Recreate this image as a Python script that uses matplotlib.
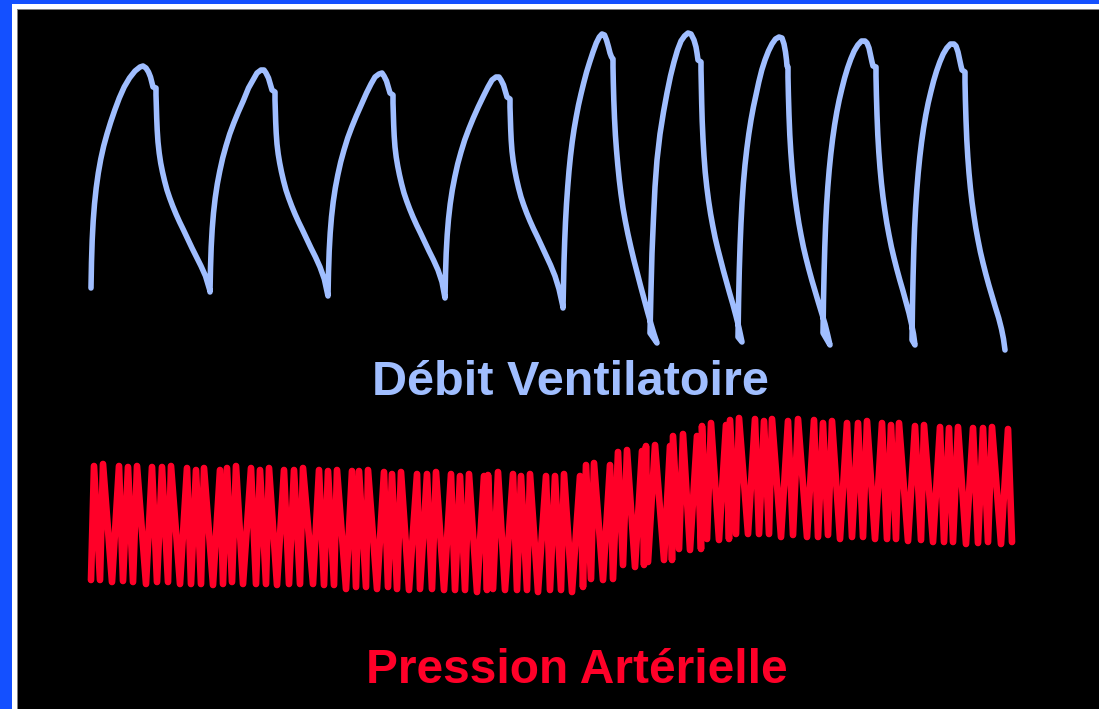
import matplotlib
matplotlib.use("Agg")
import matplotlib.pyplot as plt
from matplotlib.patches import Rectangle

# ---- Ventilatory flow: one list of (t, v) vertices per breath ----
breath_1 = [(91, 288), (91.5, 262), (92.2, 240), (93.2, 221), (94.5, 204), (96.2, 188),
            (98.3, 173), (100.8, 159), (103.7, 146), (107, 134), (110.7, 122), (114.8, 110),
            (119.3, 98), (124.2, 87), (129.5, 78), (135, 71), (140, 67), (143, 66),
            (146, 68), (148.5, 72), (150.5, 77), (152, 83), (153, 87), (156, 88), (156, 95),
            (156.3, 105), (156.7, 118), (157.2, 130), (158, 142), (159.2, 153), (160.7, 163),
            (162.5, 172), (164.6, 181), (167, 190), (169.7, 198), (172.7, 206), (176, 214),
            (179.6, 222), (183.5, 230), (187.7, 239), (192, 248), (196.5, 257), (201, 266),
            (205.5, 276), (210, 291)]
breath_2 = [(210, 292), (210.5, 268), (211.2, 247), (212.2, 229), (213.5, 213), (215.2, 198),
            (217.3, 184), (219.8, 171), (222.7, 158), (226, 146), (229.7, 134), (233.8, 123),
            (238.3, 112), (243.2, 101), (248.5, 88), (253, 80), (257, 73), (261, 70), (264, 70),
            (266, 73), (268.5, 78), (270, 83), (272, 90), (275, 92), (275, 100),
            (275.3, 110), (275.7, 122), (276.2, 133), (277, 144), (278.2, 154), (279.7, 163),
            (281.5, 172), (283.6, 181), (286, 190), (288.7, 198), (291.7, 206), (295, 214),
            (298.6, 222), (302.5, 230), (306.7, 239), (311, 248), (315.5, 257), (320, 267),
            (324.3, 279), (328, 296)]
breath_3 = [(328, 296), (328.5, 272), (329.2, 251), (330.2, 233), (331.5, 217), (333.2, 202),
            (335.3, 188), (337.8, 175), (340.7, 162), (344, 150), (347.7, 138), (351.8, 127),
            (356.3, 116), (361.2, 105), (366.5, 93), (371, 84), (375, 77), (379, 74), (382, 73),
            (384, 76), (386.5, 81), (388, 86), (390, 93), (393, 95), (393, 103),
            (393.3, 113), (393.7, 125), (394.2, 136), (395, 147), (396.2, 157), (397.7, 166),
            (399.5, 175), (401.6, 184), (404, 193), (406.7, 201), (409.7, 209), (413, 217),
            (416.6, 225), (420.5, 233), (424.7, 242), (429, 251), (433.5, 260), (438, 270),
            (442, 282), (445, 298)]
breath_4 = [(445, 298), (445.5, 274), (446.2, 253), (447.2, 235), (448.5, 219), (450.2, 204),
            (452.3, 190), (454.8, 177), (457.7, 164), (461, 152), (464.7, 140), (468.8, 129),
            (473.3, 118), (478.2, 107), (483.5, 96), (488, 87), (492, 80), (496, 77), (499, 77),
            (501, 80), (503.5, 85), (505, 90), (507, 97), (510, 99), (510, 107),
            (510.3, 117), (510.7, 129), (511.2, 140), (512, 151), (513.2, 161), (514.7, 170),
            (516.5, 179), (518.6, 188), (521, 197), (523.7, 205), (526.7, 213), (530, 221),
            (533.6, 229), (537.5, 237), (541.7, 246), (546, 255), (550.5, 265), (555, 276),
            (559, 289), (563, 307)]
breath_5 = [(563, 308), (563.5, 284), (564, 262), (564.7, 241), (565.5, 222), (566.5, 204),
            (567.7, 187), (569, 171), (570.5, 156), (572.2, 142), (574.1, 129), (576.2, 117),
            (578.5, 105), (581, 94), (583.7, 83), (586.6, 72), (589.7, 62), (593, 52),
            (596.3, 43), (599.3, 37), (602, 34), (604.5, 35),
            (606.5, 40), (608.5, 47), (610, 53), (611.5, 57), (613, 59), (613, 67),
            (613.3, 82), (613.8, 100), (614.5, 118), (615.4, 135), (616.5, 150), (617.8, 165),
            (619.3, 180), (621, 194), (623, 208), (625.3, 221), (627.9, 234), (630.8, 247),
            (633.9, 260), (637.2, 273), (640.6, 286), (644.1, 299), (647.6, 312), (651, 324),
            (654, 334), (657, 343)]
breath_6 = [(650, 333), (651, 290), (652, 253), (653.5, 218), (655, 187), (657, 160),
            (660, 134), (663.5, 112), (667, 93), (670.5, 76), (674, 62), (677.5, 50),
            (681, 41), (684.5, 36), (688, 33), (691, 34),
            (694, 40), (696, 47), (697, 53), (698, 60), (701, 62), (701, 70),
            (701.3, 85), (701.7, 103), (702.2, 121), (703, 139), (704, 156), (705.2, 172),
            (706.8, 187), (708.6, 201), (710.6, 214), (712.8, 226), (715.2, 238), (717.8, 249),
            (720.6, 260), (723.5, 271), (726.5, 282), (729.6, 293), (732.8, 304), (736, 316),
            (739, 328), (742, 342)]
breath_7 = [(738, 337), (738.6, 300), (739.3, 270), (740.1, 245), (741, 223), (742.1, 202),
            (743.4, 183), (745, 165), (746.8, 149), (748.8, 134), (751, 120), (753.4, 107),
            (756, 95), (758.8, 82), (761.8, 70), (765, 60), (768.5, 51), (772, 44),
            (775.5, 39), (779, 37), (782, 38),
            (784, 44), (785.5, 52), (786.5, 60), (787, 66), (788, 67), (788, 77),
            (788.4, 95), (789, 115), (789.8, 135), (790.8, 152), (792, 168), (793.4, 183),
            (795, 197), (796.8, 210), (798.8, 223), (801, 235), (803.4, 247), (806, 258),
            (808.8, 269), (811.8, 280), (815, 291), (818.3, 302), (821.7, 313), (825, 324),
            (827.7, 335), (830, 345)]
breath_8 = [(823, 333), (823.5, 300), (824.1, 272), (824.8, 247), (825.6, 225), (826.6, 205),
            (827.8, 187), (829.2, 170), (830.8, 154), (832.6, 139), (834.6, 125), (836.8, 112),
            (839.2, 100), (841.8, 89), (844.6, 78), (847.6, 68), (850.8, 59), (854.2, 51),
            (857.8, 45), (861.5, 41), (865, 41), (867, 43),
            (869, 48), (870.5, 55), (872, 62), (873, 66), (876, 67), (876, 76),
            (876.4, 95), (877, 115), (877.8, 135), (878.8, 152), (880, 168), (881.4, 183),
            (883, 197), (884.8, 210), (886.8, 223), (889, 235), (891.4, 247), (894, 258),
            (896.8, 269), (899.8, 280), (903, 291), (906, 302), (909, 313), (911.5, 324),
            (913.5, 334), (915, 345)]
breath_9 = [(912, 340), (912.5, 305), (913.1, 276), (913.8, 250), (914.6, 228), (915.6, 208),
            (916.8, 190), (918.2, 173), (919.8, 157), (921.6, 142), (923.6, 128), (925.8, 115),
            (928.2, 103), (930.8, 92), (933.6, 81), (936.6, 71), (939.8, 62), (943.2, 54),
            (946.8, 48), (950.5, 44), (954, 44), (956, 46),
            (958, 52), (959.5, 59), (961, 66), (962, 70), (965, 72), (965, 82),
            (965.4, 100), (966, 120), (966.8, 140), (967.8, 157), (969, 173), (970.4, 188),
            (972, 202), (973.8, 215), (975.8, 228), (978, 240), (980.4, 252), (983, 263),
            (985.8, 274), (988.8, 285), (992, 296), (995.3, 307), (998.7, 318), (1001.5, 329),
            (1003.5, 339), (1005, 350)]
breaths = [breath_1, breath_2, breath_3, breath_4, breath_5,
           breath_6, breath_7, breath_8, breath_9]

# ---- Arterial pressure: systolic peaks and diastolic troughs ----
peak_t = [94, 103, 119, 128, 137, 152, 162, 171, 187, 196, 204, 220, 227, 236, 251, 260, 269,
          284, 294, 303, 319, 328, 337, 352, 359, 368,
          384, 392, 401, 417, 427, 436, 451, 460, 469, 484, 488, 498, 513, 521, 530, 546, 555,
          564, 580,
          586, 594, 610, 618, 627, 642, 646, 655, 670, 673, 683, 697, 702, 711, 726, 730, 739,
          755, 764, 772,
          788, 798, 814, 823, 832, 847, 858, 867, 882, 891, 899, 915, 924, 940, 949, 958, 973,
          983, 992, 1008]
peak_v = [466, 464, 466, 467, 466, 467, 467, 466, 468, 470, 468, 470, 468, 466, 468, 470, 468,
          470, 470, 468, 470, 471, 470, 471, 471, 470,
          472, 474, 472, 474, 474, 472, 474, 476, 474, 476, 475, 472, 474, 476, 474, 476, 476,
          474, 476,
          465, 463, 465, 452, 450, 451, 446, 445, 446, 436, 434, 436, 426, 423, 425, 420, 418,
          419, 421, 419,
          421, 419, 420, 423, 421, 423, 423, 421, 423, 425, 423, 426, 425, 427, 428, 427, 428,
          428, 427, 429]
trough_t = [91, 100, 112, 123, 133, 146, 157, 168, 180, 191, 201, 213, 223, 232, 243, 256, 266,
            277, 289, 300, 313, 324, 334, 346, 356, 366, 377,
            388, 397, 409, 420, 432, 444, 455, 465, 477, 487, 493, 505, 517, 527, 538, 550, 561,
            572, 583,
            591, 603, 613, 623, 635, 644, 648, 664, 672, 679, 690, 701, 707, 719, 729, 736, 748,
            759, 769, 781,
            793, 807, 818, 828, 840, 852, 863, 875, 887, 896, 908, 921, 933, 944, 953, 966, 978,
            988, 1001, 1012]
trough_v = [580, 580, 582, 581, 582, 584, 582, 582, 584, 584, 584, 585, 584, 582, 584, 584, 584,
            585, 584, 584, 584, 585, 585, 589, 587, 587, 589,
            587, 589, 590, 589, 589, 590, 590, 590, 592, 590, 589, 590, 590, 590, 592, 590, 590,
            592, 587,
            579, 580, 579, 565, 567, 565, 562, 560, 560, 549, 550, 549, 539, 540, 539, 534, 534,
            534, 534, 537,
            535, 537, 537, 535, 539, 537, 537, 539, 539, 539, 541, 540, 542, 542, 542, 544, 543,
            542, 544, 542]

labels = ["Débit Ventilatoire", "Pression Artérielle"]

FLOW_COLOR = "#A0BEFF"
PRESS_COLOR = "#FF0028"
FRAME_BLUE = "#1450FF"

W, H = 1099, 709
fig = plt.figure(figsize=(W / 100, H / 100), dpi=100, facecolor="black")
ax = fig.add_axes([0, 0, 1, 1])
ax.set_facecolor("black")
ax.set_xlim(0, W)
ax.set_ylim(H, 0)
ax.axis("off")

# slide frame: blue band, white rule, thin grey edge
ax.add_patch(Rectangle((0, 0), 12, H, color=FRAME_BLUE, lw=0, zorder=0))
ax.add_patch(Rectangle((0, 0), W, 4, color=FRAME_BLUE, lw=0, zorder=0))
ax.add_patch(Rectangle((12, 4), 5, H, color="white", lw=0, zorder=0))
ax.add_patch(Rectangle((12, 4), W, 5, color="white", lw=0, zorder=0))
ax.add_patch(Rectangle((17, 9), 1, H, color="#808080", lw=0, zorder=0))
ax.add_patch(Rectangle((17, 9), W, 1, color="#808080", lw=0, zorder=0))

# flow trace: breaths chained end to end
flow_t = [p[0] for b in breaths for p in b]
flow_v = [p[1] for b in breaths for p in b]
ax.plot(flow_t, flow_v, color=FLOW_COLOR, lw=4.0, solid_joinstyle="round",
        solid_capstyle="round", zorder=3)

# pressure trace: trough, peak, trough, ...
press_t, press_v = [], []
for i in range(len(trough_t)):
    press_t.append(trough_t[i])
    press_v.append(trough_v[i])
    if i < len(peak_t):
        press_t.append(peak_t[i])
        press_v.append(peak_v[i])
ax.plot(press_t, press_v, color=PRESS_COLOR, lw=4.8, solid_joinstyle="round",
        solid_capstyle="round", zorder=3)

font = dict(family=["Liberation Sans", "DejaVu Sans"], weight="bold")
ax.text(570.5, 395, labels[0], color=FLOW_COLOR, ha="center", va="baseline",
        fontsize=35, **font)
ax.text(577, 683, labels[1], color=PRESS_COLOR, ha="center", va="baseline",
        fontsize=34.5, **font)

fig.savefig("out.png", dpi=100, facecolor="black")
